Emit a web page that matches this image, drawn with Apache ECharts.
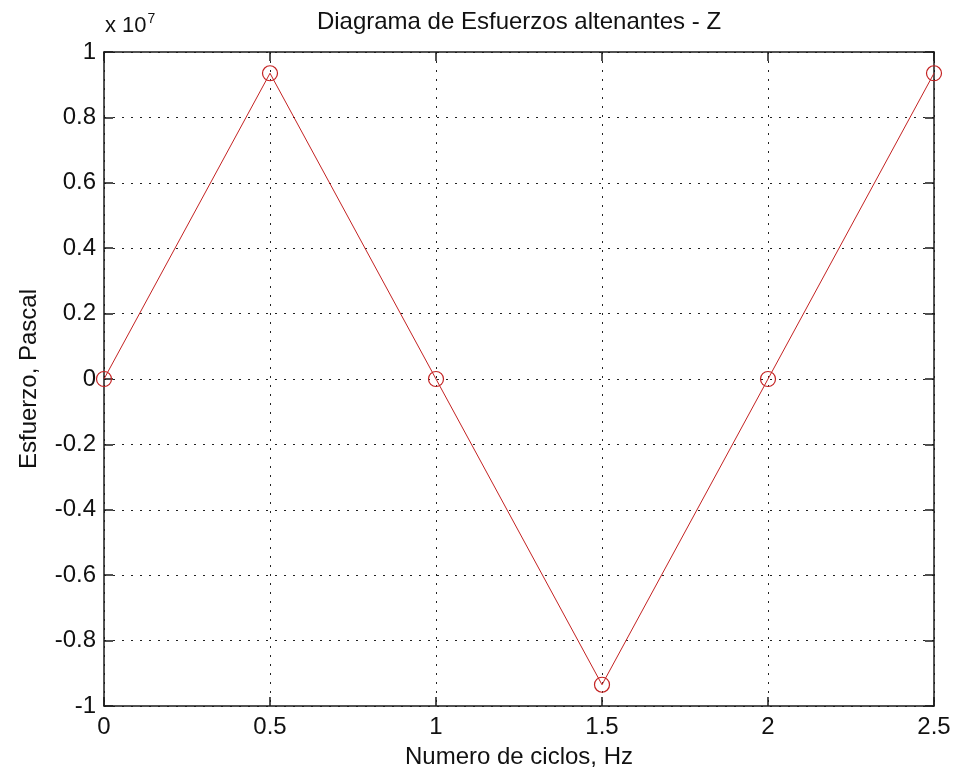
<!DOCTYPE html>
<html>
<head>
<meta charset="utf-8">
<script src="https://cdn.jsdelivr.net/npm/echarts@6/dist/echarts.min.js"></script>
<style>
  html, body { margin: 0; padding: 0; background: #fff; }
  #chart { width: 958px; height: 778px; }
</style>
</head>
<body>
<div id="chart"></div>
<script>
// Alternating stress over load cycles
const cycles = [0, 0.5, 1, 1.5, 2, 2.5];
const stressPa = [0, 9.35e6, 0, -9.35e6, 0, 9.35e6];
const xTicks = [0, 0.5, 1, 1.5, 2, 2.5];
const yTicks = [-1, -0.8, -0.6, -0.4, -0.2, 0, 0.2, 0.4, 0.6, 0.8, 1];
const yScale = 1e7;

const titleText = 'Diagrama de Esfuerzos altenantes - Z';
const xLabelText = 'Numero de ciclos, Hz';
const yLabelText = 'Esfuerzo, Pascal';

const FONT = '"Liberation Sans", Arial, Helvetica, sans-serif';
const chart = echarts.init(document.getElementById('chart'));

// box frame and inward ticks, built fresh for each axis
const frame = () => ({ show: true, onZero: false, lineStyle: { color: '#1a1a1a', width: 1.5 } });
const inTick = () => ({ show: true, inside: true, length: 9, lineStyle: { color: '#1a1a1a', width: 1.5 } });
const gridDots = () => ({ show: true, lineStyle: { color: '#222', width: 1, type: [2, 7] } });

const fmtX = v => String(parseFloat(v.toFixed(2)));
const fmtY = v => String(parseFloat((v / yScale).toFixed(1)));

const xRange = { min: xTicks[0], max: xTicks[xTicks.length - 1], interval: 0.5 };
const yRange = { min: yTicks[0] * yScale, max: yTicks[yTicks.length - 1] * yScale, interval: 0.2 * yScale };

chart.setOption({
  animation: false,
  backgroundColor: '#ffffff',
  grid: { left: 104, right: 24, top: 52, bottom: 72, containLabel: false },
  xAxis: [
    Object.assign({
      type: 'value', position: 'bottom',
      axisLine: frame(), axisTick: inTick(),
      axisLabel: { formatter: fmtX, fontFamily: FONT, fontSize: 24, color: '#111', margin: 9 },
      splitLine: gridDots()
    }, xRange),
    Object.assign({
      type: 'value', position: 'top',
      axisLine: frame(), axisTick: inTick(),
      axisLabel: { show: false }, splitLine: { show: false }
    }, xRange)
  ],
  yAxis: [
    Object.assign({
      type: 'value', position: 'left',
      axisLine: frame(), axisTick: inTick(),
      axisLabel: { formatter: fmtY, fontFamily: FONT, fontSize: 24, color: '#111', margin: 8 },
      splitLine: gridDots()
    }, yRange),
    Object.assign({
      type: 'value', position: 'right',
      axisLine: frame(), axisTick: inTick(),
      axisLabel: { show: false }, splitLine: { show: false }
    }, yRange)
  ],
  series: [
    {
      type: 'line',
      xAxisIndex: 0, yAxisIndex: 0,
      data: cycles.map((c, i) => [c, stressPa[i]]),
      clip: false,
      symbol: 'circle',
      symbolSize: 15,
      lineStyle: { color: '#c42222', width: 1 },
      itemStyle: { color: 'rgba(0,0,0,0)', borderColor: '#c42222', borderWidth: 1.2 },
      z: 5
    }
  ],
  graphic: [
    {
      type: 'text', x: 519, y: 22,
      style: { text: titleText, font: '24px ' + FONT, fill: '#111', align: 'center', verticalAlign: 'middle' }
    },
    {
      type: 'text', x: 519, y: 757,
      style: { text: xLabelText, font: '24px ' + FONT, fill: '#111', align: 'center', verticalAlign: 'middle' }
    },
    {
      type: 'text', x: 29, y: 379, rotation: Math.PI / 2,
      style: { text: yLabelText, font: '24px ' + FONT, fill: '#111', align: 'center', verticalAlign: 'middle' }
    },
    {
      type: 'text', x: 105, y: 40,
      style: {
        text: '{b|x 10}{e|7}',
        verticalAlign: 'bottom',
        rich: {
          b: { font: '22px ' + FONT, fill: '#111' },
          e: { font: '14px ' + FONT, fill: '#111', verticalAlign: 'top', padding: [0, 0, 14, 1] }
        }
      }
    }
  ]
});
</script>
</body>
</html>
